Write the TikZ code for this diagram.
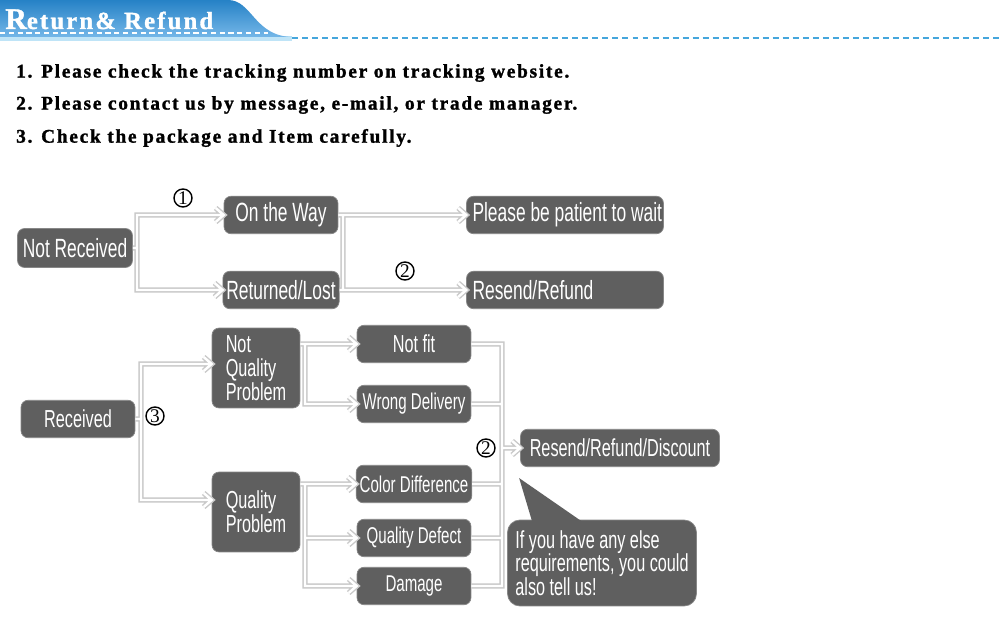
\documentclass[tikz,border=0pt]{standalone}
\usepackage{fontspec}
\setmainfont{Liberation Serif}
\newfontfamily\boxfont[FakeStretch=0.66]{Liberation Sans}
\newfontfamily\notefont[LetterSpace=9, BoldFeatures={FakeBold=1.4}]{Liberation Serif}
\usetikzlibrary{arrows.meta, positioning, calc, shapes.geometric}
\definecolor{BoxGray}{HTML}{5F5F5F}
\definecolor{LinkGray}{HTML}{C9C9C9}
\definecolor{TabBlue}{HTML}{2A90DC}
\definecolor{TabPale}{HTML}{BFE4F7}
\definecolor{DashBlue}{HTML}{45A6DC}

\begin{document}
\begin{tikzpicture}[
    x=0.02cm, y=-0.02cm,
    font=\boxfont\fontsize{14}{13.5}\selectfont,
    box/.style={fill=BoxGray, draw=BoxGray!75, text=white, rounded corners=4pt,
                inner sep=2pt, minimum width=2.28cm, minimum height=0.75cm, align=center},
    bigtxt/.style={font=\boxfont\fontsize{15}{14}\selectfont},
    minor/.style={font=\boxfont\fontsize{13}{13}\selectfont},
    tall/.style={box, minimum width=1.76cm, minimum height=1.6cm, align=left},
    wide/.style={box, bigtxt, minimum width=3.94cm},
    num/.style={circle, draw, line width=0.8pt, inner sep=0pt, minimum size=0.36cm,
                font=\rmfamily\fontsize{11}{11}\selectfont},
    link/.style={draw=LinkGray, double=white, double distance=1.4pt, line width=0.8pt},
    chev/.style={insert path={+(-8,-7) -- +(0,0) -- +(-8,7)}},
    note/.style={anchor=west, font=\notefont\bfseries\fontsize{11}{13}\selectfont},
  ]
    \useasboundingbox (0,0) rectangle (1000,617);
    \fill[white] (0,0) rectangle (1000,617);
    % ---- header tab ----
    \fill[TabPale] (0,36) rectangle (292,41);
    \shade[top color=TabBlue!90!black, bottom color=TabBlue!65!white]
      (0,0) -- (228,0) .. controls (252,0) and (254,36) .. (292,37) -- (0,37) -- cycle;
    \draw[white, line width=0.8pt, dash pattern=on 3pt off 2pt] (0,33) -- (268,33);
    \draw[DashBlue, line width=1.1pt, dash pattern=on 3.4pt off 2.3pt] (292,38) -- (1000,38);
    \node[anchor=base west, text=white, inner sep=0pt, font=\notefont\bfseries] (title) at (5,29)
      {{\fontsize{17}{17}\selectfont R}{\fontsize{14}{14}\selectfont eturn\& Refund}};
    % ---- notes ----
    \node[note] (line1) at (10,73)  {1. Please check the tracking number on tracking website.};
    \node[note] (line2) at (10,105) {2. Please contact us by message, e-mail, or trade manager.};
    \node[note] (line3) at (10,138) {3. Check the package and Item carefully.};
    % ---- not received ----
    \node[box, bigtxt, minimum width=2.3cm, minimum height=0.78cm] (notrec) at (75,248) {Not Received};
    \node[box, bigtxt] (onway)   at (281,215) {On the Way};
    \node[box, bigtxt] (retlost) at (281,290) {Returned/Lost};
    \node[wide] (wait)   at (565,215) {\makebox[3.7cm][l]{Please be patient to wait}};
    \node[wide] (resend) at (565,290) {\makebox[3.7cm][l]{Resend/Refund}};
    \node[num] (c1) at (183,198) {1};
    \node[num] (c2) at (405,271) {2};
    % ---- received ----
    \node[box] (received) at (78,419) {Received};
    \node[num] (c3) at (155,416) {3};
    \node[tall] (nqp) at (256,368) {Not\\Quality\\Problem};
    \node[tall] (qp)  at (256,512) {Quality\\Problem};
    \node[box] (notfit)           at (414,344) {Not fit};
    \node[box, minor] (wrong)     at (414,404) {Wrong Delivery};
    \node[box, minor] (colordiff) at (414,484) {Color Difference};
    \node[box, minor] (defect)    at (414,538) {Quality Defect};
    \node[box, minor] (damage)    at (414,586) {Damage};
    \node[num] (c4) at (486,448) {2};
    \node[box, minimum width=3.98cm] (rrd) at (620,448) {Resend/Refund/Discount};
    \node[box, align=left, rounded corners=7pt, minimum width=3.78cm, minimum height=1.72cm]
      (bubble) at (602,563) {If you have any else\\requirements, you could\\also tell us!};
    \fill[BoxGray] ($(bubble.north west)+(25,2)$) -- ($(rrd.south west)+(-1,11)$)
      -- ($(bubble.north west)+(75,2)$) -- cycle;
    % ---- links ----
    \coordinate (t1) at (137,0);
    \coordinate (t2) at (343,0);
    \coordinate (t3) at (141,0);
    \coordinate (t4) at (305,0);
    \coordinate (t6) at (502,0);
    \coordinate (nqpin) at ($(nqp.west)+(0,-4)$);
    \coordinate (qpin)  at ($(qp.west)+(0,-12)$);
    \draw[link] (onway.west) [chev] (onway.west) -- (onway.west -| t1)
      -- (retlost.west -| t1) -- (retlost.west) [chev]
      (notrec.east) -- (notrec.east -| t1);
    \draw[link] (wait.west) [chev] (wait.west) -- (wait.west -| t2)
      -- (resend.west -| t2) -- (resend.west) [chev]
      (onway.east) -- (onway.east -| t2)
      (retlost.east) -- (retlost.east -| t2);
    \draw[link] (nqpin) [chev] (nqpin) -- (nqpin -| t3) -- (qpin -| t3) -- (qpin) [chev]
      (received.east) -- (received.east -| t3);
    \draw[link] (notfit.west) [chev] (notfit.west) -- (notfit.west -| t4)
      -- (wrong.west -| t4) -- (wrong.west) [chev]
      (nqp.east |- notfit.west) -- (notfit.west -| t4);
    \draw[link] (colordiff.west) [chev] (colordiff.west) -- (colordiff.west -| t4)
      -- (damage.west -| t4) -- (damage.west) [chev]
      (qp.east |- colordiff.west) -- (colordiff.west -| t4)
      (defect.west) [chev] (defect.west) -- (defect.west -| t4);
    \draw[link] (notfit.east) -- (notfit.east -| t6) -- (damage.east -| t6) -- (damage.east)
      (wrong.east) -- (wrong.east -| t6)
      (colordiff.east) -- (colordiff.east -| t6)
      (defect.east) -- (defect.east -| t6)
      (rrd.west) [chev] (rrd.west) -- (rrd.west -| t6);
  \end{tikzpicture}
\end{document}
